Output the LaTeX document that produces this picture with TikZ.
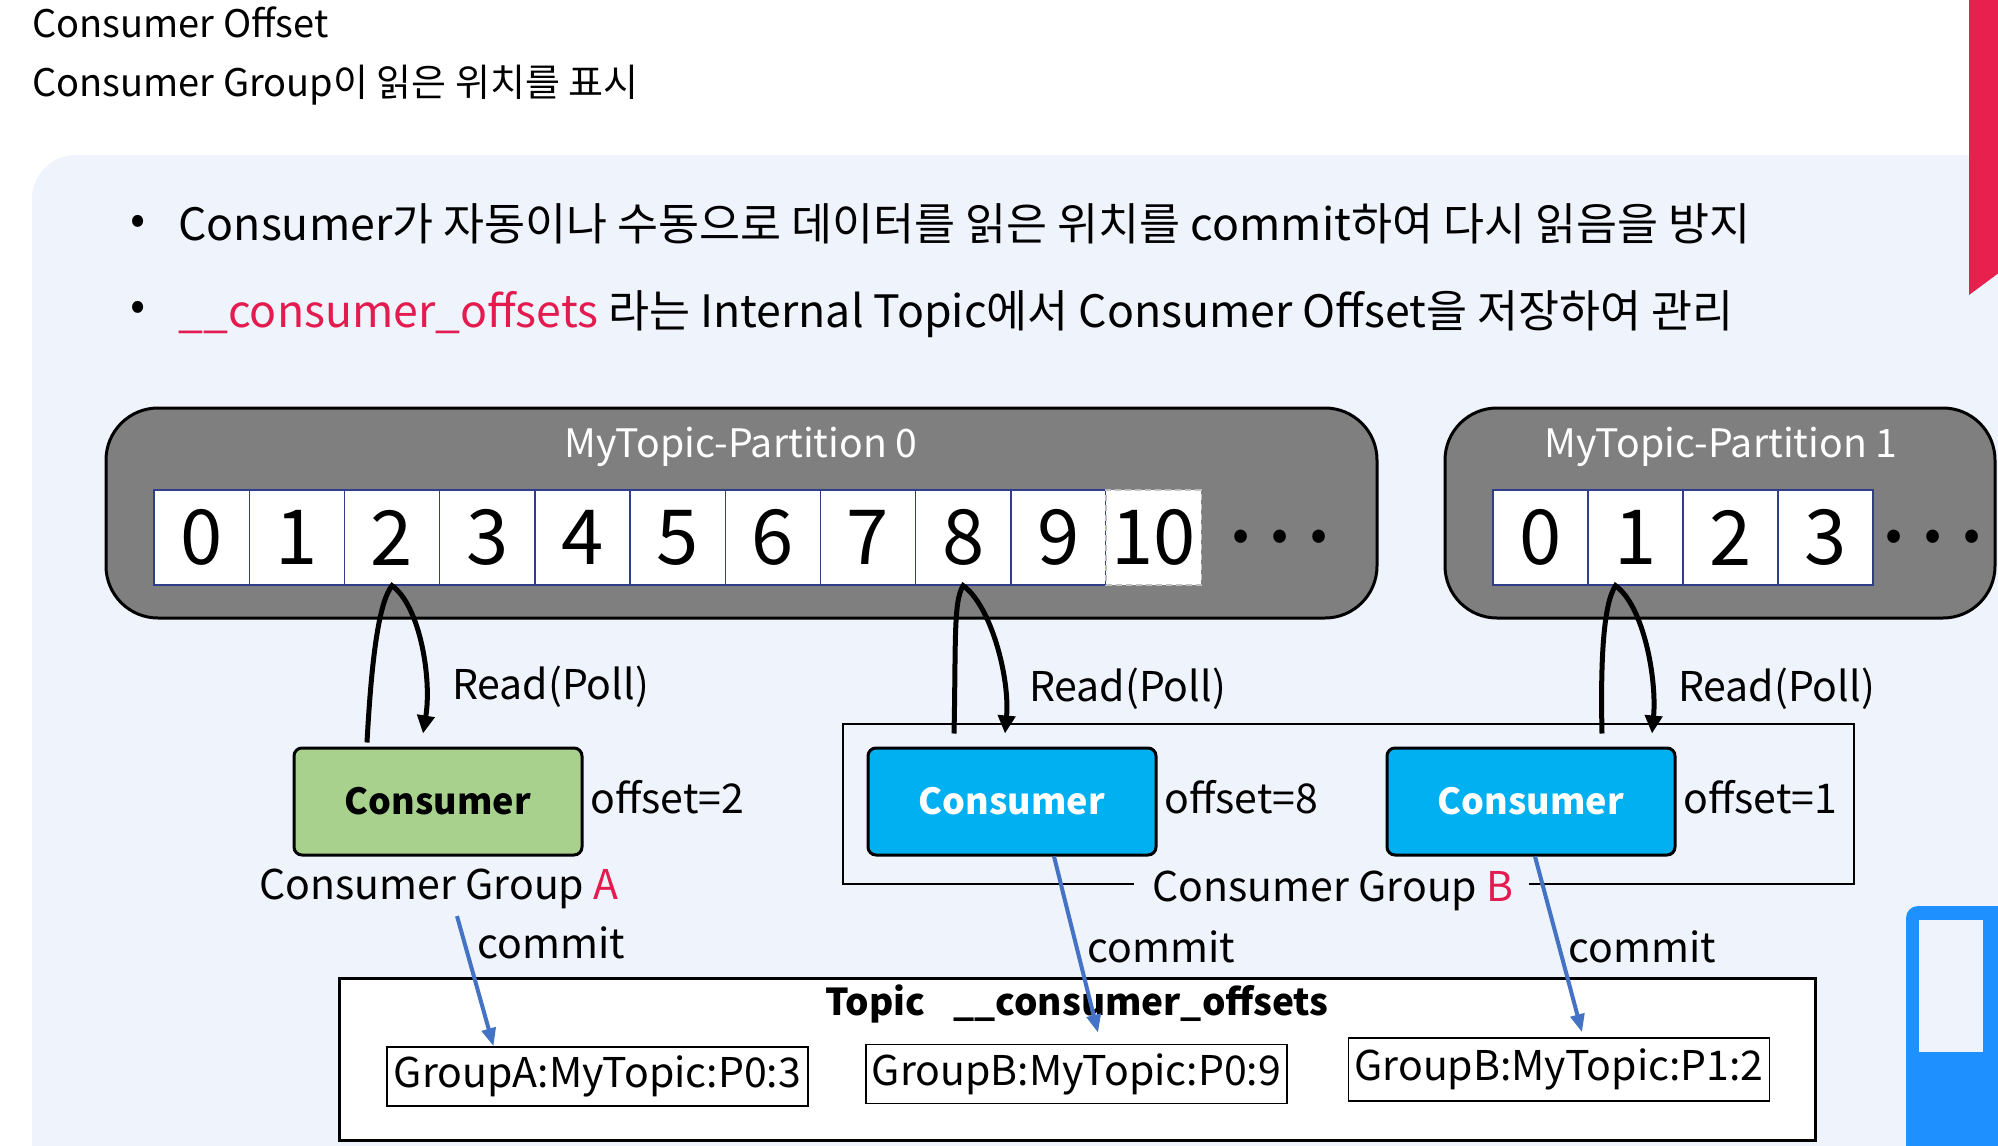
\documentclass[tikz,border=0pt]{standalone}
\usepackage{fontspec}
\setmainfont{Noto Sans CJK KR}
\usepackage{tikz}
\usetikzlibrary{positioning,arrows.meta}

\definecolor{panelbg}{HTML}{EFF3FC}
\definecolor{partgray}{HTML}{7F7F7F}
\definecolor{cellline}{HTML}{2F3D8C}
\definecolor{consgreen}{HTML}{A9D18E}
\definecolor{consblue}{HTML}{00B0F0}
\definecolor{crimson}{HTML}{E31B4E}
\definecolor{commitblue}{HTML}{4472C4}
\definecolor{tabred}{HTML}{E8204E}
\definecolor{widgetblue}{HTML}{1E90FF}

\newcommand\hdfont{\fontsize{19}{23}\selectfont}
\newcommand\bulfont{\fontsize{22.3}{26}\selectfont}
\newcommand\digfont{\fontsize{38}{40}\selectfont}
\newcommand\lblfont{\fontsize{20.5}{24}\selectfont}
\newcommand\boldfont{\fontsize{18}{22}\selectfont\bfseries}

\begin{document}
\begin{tikzpicture}[x=0.5pt,y=-0.5pt,
    partbox/.style={draw=black, line width=1.5pt, fill=partgray, rounded corners=26pt},
    parttitle/.style={text=white, font=\fontsize{19.6}{24}\selectfont},
    cell/.style={draw=cellline, line width=0.7pt, fill=white, minimum width=47.6pt,
      minimum height=47.5pt, inner sep=0pt, font=\digfont},
    consumer/.style={draw=black, line width=1.5pt, rounded corners=4pt, minimum width=144pt,
      minimum height=53.5pt, font=\boldfont},
    entry/.style={draw=black, line width=0.8pt, fill=white, minimum width=210.5pt,
      minimum height=29.5pt, inner sep=0pt, font=\lblfont},
    readarr/.style={draw=black, line width=2.5pt, -{Triangle[length=9pt,width=8.5pt]}},
    commitarr/.style={draw=commitblue, line width=2pt, -{Triangle[length=9pt,width=7pt]}},
    gframe/.style={draw=black, line width=0.8pt}]
  \useasboundingbox (0,0) rectangle (1998,1146);

  % ---- page ----
  \fill[panelbg, rounded corners=22pt] (32,155) rectangle (2060,1230);
  \fill[tabred] (1969,0) -- (2000,0) -- (2000,272) -- (1969,295) -- cycle;
  \fill[widgetblue, rounded corners=6pt] (1906,906) rectangle (2040,1200);
  \fill[panelbg] (1919,920) rectangle (1983,1052);

  % ---- heading and bullets ----
  \node[anchor=base west, inner sep=0pt, font=\hdfont] (hd1) at (32,37) {Consumer Offset};
  \node[anchor=base west, inner sep=0pt, font=\hdfont] (hd2) at (32,96) {Consumer Group이 읽은 위치를 표시};
  \node[font=\bulfont] (b1) at (138,225) {•};
  \node[anchor=base west, inner sep=0pt, font=\bulfont] (t1) at (178,240)
    {Consumer가 자동이나 수동으로 데이터를 읽은 위치를 commit하여 다시 읽음을 방지};
  \node[font=\bulfont] (b2) at (138,311) {•};
  \node[anchor=base west, inner sep=0pt, font=\bulfont] (t2) at (178,327)
    {\textcolor{crimson}{\_\_consumer\_offsets} 라는 Internal Topic에서 Consumer Offset을 저장하여 관리};

  % ---- partitions ----
  \node[partbox, minimum width=635.5pt, minimum height=105pt] (pt0) at (741.5,513) {};
  \node[parttitle] (pt0name) at (741,447) {MyTopic-Partition 0};
  \foreach \i in {0,...,9}
    \node[cell] (pa\i) at (201.6+95.2*\i,537.5) {\i};
  \node[cell, draw=white!75!black, dash pattern=on 3pt off 2pt] (pa10) at (1153.6,537.5) {10};
  \node[font=\fontsize{30}{32}\selectfont\bfseries] (dotsa) at (1280,537) {.\hspace{9pt}.\hspace{9pt}.};

  \node[partbox, minimum width=275pt, minimum height=105pt] (pt1) at (1720,513) {};
  \node[parttitle] (pt1name) at (1721,447) {MyTopic-Partition 1};
  \foreach \i in {0,...,3}
    \node[cell] (pb\i) at (1540.5+95*\i,537.5) {\i};
  \node[font=\fontsize{30}{32}\selectfont\bfseries] (dotsb) at (1933,537) {.\hspace{9pt}.\hspace{9pt}.};

  % ---- consumers ----
  \node[consumer, fill=consgreen] (ca) at (438,801.5) {Consumer};
  \node[consumer, fill=consblue, text=white] (cb) at (1012,801.5) {Consumer};
  \node[consumer, fill=consblue, text=white] (cc) at (1531,801.5) {Consumer};
  \node[right=0pt of ca, yshift=2pt, font=\lblfont] (offa) {offset=2};
  \node[right=0pt of cb, yshift=2pt, font=\lblfont] (offb) {offset=8};
  \node[right=0pt of cc, yshift=2pt, font=\lblfont] (offc) {offset=1};

  \node[font=\lblfont] (ga) at (439,889) {Consumer Group \textcolor{crimson}{A}};
  \node[font=\lblfont] (gb) at (1333,891) {Consumer Group \textcolor{crimson}{B}};
  \draw[gframe] (1134,884) -- (843,884) -- (843,724) -- (1854,724) -- (1854,884) -- (1529,884);

  % ---- read ----
  \draw[readarr] ([xshift=-35.5pt,yshift=2pt]ca.north) .. controls +(5,-93) and +(-12,15) .. (pa2.south)
    .. controls +(28,20) and +(9,-55) .. ([xshift=-7.5pt,yshift=6.5pt]ca.north);
  \draw[readarr] ([xshift=-29pt,yshift=6.5pt]cb.north) .. controls +(2,-90) and +(-10,15) .. (pa8.south)
    .. controls +(28,20) and +(5,-55) .. ([xshift=-3.5pt,yshift=6.5pt]cb.north);
  \draw[readarr] ([xshift=35.5pt,yshift=6.5pt]cc.north) .. controls +(-2,-90) and +(-10,15) .. ([xshift=-10pt]pb1.south)
    .. controls +(28,20) and +(5,-55) .. ([xshift=60.5pt,yshift=6.5pt]cc.north);
  \node[anchor=west, font=\lblfont] (rla) at (445,687) {Read(Poll)};
  \node[anchor=west, font=\lblfont] (rlb) at (1022,689) {Read(Poll)};
  \node[anchor=west, font=\lblfont] (rlc) at (1671,689) {Read(Poll)};

  % ---- offsets topic ----
  \node[draw=black, line width=1.5pt, fill=white, minimum width=738pt, minimum height=81pt] (tp) at (1077,1059) {};
  \node[font=\fontsize{18.5}{22}\selectfont\bfseries] (tpname) at (1077,1004) {Topic\hspace{14pt}\_\_consumer\_offsets};
  \node[entry] (ea) at (597.5,1076.5) {GroupA:MyTopic:P0:3};
  \node[entry] (eb) at (1076.5,1074) {GroupB:MyTopic:P0:9};
  \node[entry, minimum height=31.5pt] (ec) at (1559,1069.5) {GroupB:MyTopic:P1:2};

  % ---- commit ----
  \draw[commitarr] ([xshift=9pt]ga.south) -- ([xshift=-52pt]ea.north);
  \draw[commitarr] ([xshift=21pt]cb.south) -- ([xshift=10.75pt,yshift=5.5pt]eb.north);
  \draw[commitarr] ([xshift=2pt]cc.south) -- ([xshift=11.5pt,yshift=2.5pt]ec.north);
  \node[font=\lblfont] (cma) at (551,943) {commit};
  \node[font=\lblfont] (cmb) at (1161,947) {commit};
  \node[font=\lblfont] (cmc) at (1642,947) {commit};
\end{tikzpicture}
\end{document}
